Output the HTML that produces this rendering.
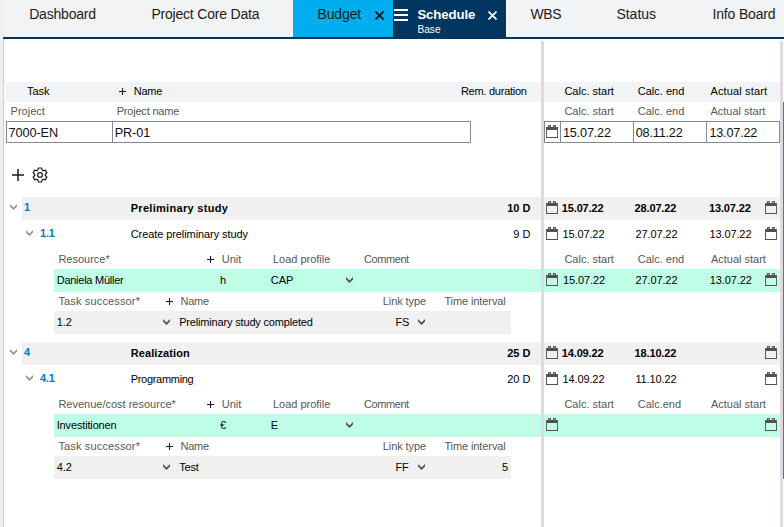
<!DOCTYPE html>
<html><head><meta charset="utf-8"><style>
html,body{margin:0;padding:0;width:784px;height:527px;overflow:hidden;background:#fff;}
body{position:relative;font-family:"Liberation Sans",sans-serif;}
</style></head><body>
<div style="position:absolute;left:0px;top:0px;width:784px;height:527px;background:#ffffff;"></div>
<div style="position:absolute;left:0px;top:0px;width:784px;height:37px;background:#f2f3f5;"></div>
<div style="position:absolute;left:0px;top:0px;width:4px;height:37px;background:#efefef;"></div>
<div style="position:absolute;left:0px;top:37px;width:3px;height:490px;background:#efefef;"></div>
<div style="position:absolute;left:293px;top:0px;width:100px;height:37px;background:#00aeef;"></div>
<div style="position:absolute;left:393px;top:0px;width:113px;height:37px;background:#00365f;"></div>
<div style="position:absolute;left:3px;top:37px;width:781px;height:2px;background:#00365f;"></div>
<div style="position:absolute;left:3px;top:39px;width:1px;height:488px;background:#d0d1e0;"></div>
<div style="position:absolute;left:4px;top:39px;width:1px;height:488px;background:#f6f6fa;"></div>
<div style="position:absolute;left:541px;top:41px;width:3px;height:486px;background:#e0d8e3;"></div>
<div style="position:absolute;left:780px;top:41px;width:3px;height:486px;background:#e0d8e3;"></div>
<div style="position:absolute;left:783px;top:102px;width:1px;height:377px;background:#5d7096;"></div>
<div style="position:absolute;left:6px;top:82px;width:535px;height:20px;background:#f2f3f5;"></div>
<div style="position:absolute;left:544px;top:82px;width:236px;height:20px;background:#f2f3f5;"></div>
<div style="position:absolute;left:6px;top:121px;width:465px;height:22px;background:#fff;box-sizing:border-box;border:1px solid #7f8a96"></div>
<div style="position:absolute;left:112px;top:121px;width:1px;height:22px;background:#7f8a96;"></div>
<div style="position:absolute;left:544px;top:121px;width:236px;height:22px;background:#fff;box-sizing:border-box;border:1px solid #7f8a96"></div>
<div style="position:absolute;left:560px;top:121px;width:1px;height:22px;background:#7f8a96;"></div>
<div style="position:absolute;left:633px;top:121px;width:1px;height:22px;background:#7f8a96;"></div>
<div style="position:absolute;left:706px;top:121px;width:1px;height:22px;background:#7f8a96;"></div>
<svg style="position:absolute;left:546px;top:125px" width="12" height="13" viewBox="0 0 12 13" shape-rendering="crispEdges"><rect x="2" y="0" width="3" height="2" fill="#5e5e5e"/><rect x="7" y="0" width="3" height="2" fill="#5e5e5e"/><rect x="3" y="1" width="1" height="1" fill="#b0b0b0"/><rect x="8" y="1" width="1" height="1" fill="#b0b0b0"/><rect x="0" y="2" width="12" height="3" fill="#505050"/><rect x="0" y="2" width="1" height="11" fill="#5e5e5e"/><rect x="11" y="2" width="1" height="11" fill="#5e5e5e"/><rect x="0" y="12" width="12" height="1" fill="#505050"/></svg>
<svg style="position:absolute;left:375px;top:11px" width="9" height="9" viewBox="0 0 9 9"><line x1="0.5" y1="0.5" x2="8.5" y2="8.5" stroke="#111" stroke-width="1.7"/><line x1="8.5" y1="0.5" x2="0.5" y2="8.5" stroke="#111" stroke-width="1.7"/></svg>
<svg style="position:absolute;left:488px;top:11px" width="9" height="9" viewBox="0 0 9 9"><line x1="0.5" y1="0.5" x2="8.5" y2="8.5" stroke="#fff" stroke-width="1.7"/><line x1="8.5" y1="0.5" x2="0.5" y2="8.5" stroke="#fff" stroke-width="1.7"/></svg>
<div style="position:absolute;left:394px;top:9px;width:14px;height:2px;background:#fff;"></div>
<div style="position:absolute;left:394px;top:14px;width:14px;height:2px;background:#fff;"></div>
<div style="position:absolute;left:394px;top:19px;width:14px;height:2px;background:#fff;"></div>
<svg style="position:absolute;left:119px;top:88px" width="7" height="7" viewBox="0 0 7 7"><line x1="0" y1="3.5" x2="7" y2="3.5" stroke="#222" stroke-width="1.1"/><line x1="3.5" y1="0" x2="3.5" y2="7" stroke="#222" stroke-width="1.1"/></svg>
<svg style="position:absolute;left:12px;top:169px" width="12" height="12" viewBox="0 0 12 12"><line x1="0" y1="6" x2="12" y2="6" stroke="#1a1a1a" stroke-width="1.5"/><line x1="6" y1="0" x2="6" y2="12" stroke="#1a1a1a" stroke-width="1.5"/></svg>
<svg style="position:absolute;left:32px;top:167px" width="16" height="16" viewBox="0 0 16 16"><polygon points="5.84,3.16 6.38,0.98 9.62,0.98 10.16,3.16 11.12,3.71 13.27,3.09 14.89,5.89 13.27,7.45 13.27,8.55 14.89,10.11 13.27,12.91 11.12,12.29 10.16,12.84 9.62,15.02 6.38,15.02 5.84,12.84 4.88,12.29 2.73,12.91 1.11,10.11 2.73,8.55 2.73,7.45 1.11,5.89 2.73,3.09 4.88,3.71" fill="none" stroke="#1a1a1a" stroke-width="1.2" stroke-linejoin="round"/><circle cx="8" cy="8" r="2.4" fill="none" stroke="#1a1a1a" stroke-width="1.2"/></svg>
<div style="position:absolute;left:22px;top:197px;width:519px;height:23px;background:#f0f0f0;"></div>
<div style="position:absolute;left:544px;top:197px;width:236px;height:23px;background:#f0f0f0;"></div>
<svg style="position:absolute;left:10px;top:204px" width="7" height="6" viewBox="0 0 7 6"><polygon points="0,0 3.5,3.4 7,0 7,2.4 3.5,6 0,2.4" fill="#949494"/></svg>
<svg style="position:absolute;left:546px;top:201px" width="12" height="13" viewBox="0 0 12 13" shape-rendering="crispEdges"><rect x="2" y="0" width="3" height="2" fill="#5e5e5e"/><rect x="7" y="0" width="3" height="2" fill="#5e5e5e"/><rect x="3" y="1" width="1" height="1" fill="#b0b0b0"/><rect x="8" y="1" width="1" height="1" fill="#b0b0b0"/><rect x="0" y="2" width="12" height="3" fill="#505050"/><rect x="0" y="2" width="1" height="11" fill="#5e5e5e"/><rect x="11" y="2" width="1" height="11" fill="#5e5e5e"/><rect x="0" y="12" width="12" height="1" fill="#505050"/></svg>
<svg style="position:absolute;left:765px;top:201px" width="12" height="13" viewBox="0 0 12 13" shape-rendering="crispEdges"><rect x="2" y="0" width="3" height="2" fill="#5e5e5e"/><rect x="7" y="0" width="3" height="2" fill="#5e5e5e"/><rect x="3" y="1" width="1" height="1" fill="#b0b0b0"/><rect x="8" y="1" width="1" height="1" fill="#b0b0b0"/><rect x="0" y="2" width="12" height="3" fill="#505050"/><rect x="0" y="2" width="1" height="11" fill="#5e5e5e"/><rect x="11" y="2" width="1" height="11" fill="#5e5e5e"/><rect x="0" y="12" width="12" height="1" fill="#505050"/></svg>
<svg style="position:absolute;left:26px;top:230px" width="7" height="6" viewBox="0 0 7 6"><polygon points="0,0 3.5,3.4 7,0 7,2.4 3.5,6 0,2.4" fill="#949494"/></svg>
<svg style="position:absolute;left:546px;top:227px" width="12" height="13" viewBox="0 0 12 13" shape-rendering="crispEdges"><rect x="2" y="0" width="3" height="2" fill="#5e5e5e"/><rect x="7" y="0" width="3" height="2" fill="#5e5e5e"/><rect x="3" y="1" width="1" height="1" fill="#b0b0b0"/><rect x="8" y="1" width="1" height="1" fill="#b0b0b0"/><rect x="0" y="2" width="12" height="3" fill="#505050"/><rect x="0" y="2" width="1" height="11" fill="#5e5e5e"/><rect x="11" y="2" width="1" height="11" fill="#5e5e5e"/><rect x="0" y="12" width="12" height="1" fill="#505050"/></svg>
<svg style="position:absolute;left:765px;top:227px" width="12" height="13" viewBox="0 0 12 13" shape-rendering="crispEdges"><rect x="2" y="0" width="3" height="2" fill="#5e5e5e"/><rect x="7" y="0" width="3" height="2" fill="#5e5e5e"/><rect x="3" y="1" width="1" height="1" fill="#b0b0b0"/><rect x="8" y="1" width="1" height="1" fill="#b0b0b0"/><rect x="0" y="2" width="12" height="3" fill="#505050"/><rect x="0" y="2" width="1" height="11" fill="#5e5e5e"/><rect x="11" y="2" width="1" height="11" fill="#5e5e5e"/><rect x="0" y="12" width="12" height="1" fill="#505050"/></svg>
<svg style="position:absolute;left:207px;top:256px" width="7" height="7" viewBox="0 0 7 7"><line x1="0" y1="3.5" x2="7" y2="3.5" stroke="#222" stroke-width="1.1"/><line x1="3.5" y1="0" x2="3.5" y2="7" stroke="#222" stroke-width="1.1"/></svg>
<div style="position:absolute;left:54px;top:269px;width:487px;height:23px;background:#bffde7;"></div>
<div style="position:absolute;left:544px;top:269px;width:236px;height:23px;background:#bffde7;"></div>
<svg style="position:absolute;left:346px;top:277px" width="7" height="6" viewBox="0 0 7 6"><polygon points="0,0 3.5,3.4 7,0 7,2.4 3.5,6 0,2.4" fill="#554f50"/></svg>
<svg style="position:absolute;left:546px;top:273px" width="12" height="13" viewBox="0 0 12 13" shape-rendering="crispEdges"><rect x="2" y="0" width="3" height="2" fill="#5e5e5e"/><rect x="7" y="0" width="3" height="2" fill="#5e5e5e"/><rect x="3" y="1" width="1" height="1" fill="#b0b0b0"/><rect x="8" y="1" width="1" height="1" fill="#b0b0b0"/><rect x="0" y="2" width="12" height="3" fill="#505050"/><rect x="0" y="2" width="1" height="11" fill="#5e5e5e"/><rect x="11" y="2" width="1" height="11" fill="#5e5e5e"/><rect x="0" y="12" width="12" height="1" fill="#505050"/></svg>
<svg style="position:absolute;left:765px;top:273px" width="12" height="13" viewBox="0 0 12 13" shape-rendering="crispEdges"><rect x="2" y="0" width="3" height="2" fill="#5e5e5e"/><rect x="7" y="0" width="3" height="2" fill="#5e5e5e"/><rect x="3" y="1" width="1" height="1" fill="#b0b0b0"/><rect x="8" y="1" width="1" height="1" fill="#b0b0b0"/><rect x="0" y="2" width="12" height="3" fill="#505050"/><rect x="0" y="2" width="1" height="11" fill="#5e5e5e"/><rect x="11" y="2" width="1" height="11" fill="#5e5e5e"/><rect x="0" y="12" width="12" height="1" fill="#505050"/></svg>
<svg style="position:absolute;left:165.8px;top:298px" width="7" height="7" viewBox="0 0 7 7"><line x1="0" y1="3.5" x2="7" y2="3.5" stroke="#222" stroke-width="1.1"/><line x1="3.5" y1="0" x2="3.5" y2="7" stroke="#222" stroke-width="1.1"/></svg>
<div style="position:absolute;left:54px;top:311px;width:457px;height:23px;background:#f0f0f0;"></div>
<svg style="position:absolute;left:163px;top:319px" width="7" height="6" viewBox="0 0 7 6"><polygon points="0,0 3.5,3.4 7,0 7,2.4 3.5,6 0,2.4" fill="#554f50"/></svg>
<svg style="position:absolute;left:418px;top:319px" width="7" height="6" viewBox="0 0 7 6"><polygon points="0,0 3.5,3.4 7,0 7,2.4 3.5,6 0,2.4" fill="#554f50"/></svg>
<div style="position:absolute;left:22px;top:342px;width:519px;height:23px;background:#f0f0f0;"></div>
<div style="position:absolute;left:544px;top:342px;width:236px;height:23px;background:#f0f0f0;"></div>
<svg style="position:absolute;left:10px;top:349px" width="7" height="6" viewBox="0 0 7 6"><polygon points="0,0 3.5,3.4 7,0 7,2.4 3.5,6 0,2.4" fill="#949494"/></svg>
<svg style="position:absolute;left:546px;top:346px" width="12" height="13" viewBox="0 0 12 13" shape-rendering="crispEdges"><rect x="2" y="0" width="3" height="2" fill="#5e5e5e"/><rect x="7" y="0" width="3" height="2" fill="#5e5e5e"/><rect x="3" y="1" width="1" height="1" fill="#b0b0b0"/><rect x="8" y="1" width="1" height="1" fill="#b0b0b0"/><rect x="0" y="2" width="12" height="3" fill="#505050"/><rect x="0" y="2" width="1" height="11" fill="#5e5e5e"/><rect x="11" y="2" width="1" height="11" fill="#5e5e5e"/><rect x="0" y="12" width="12" height="1" fill="#505050"/></svg>
<svg style="position:absolute;left:765px;top:346px" width="12" height="13" viewBox="0 0 12 13" shape-rendering="crispEdges"><rect x="2" y="0" width="3" height="2" fill="#5e5e5e"/><rect x="7" y="0" width="3" height="2" fill="#5e5e5e"/><rect x="3" y="1" width="1" height="1" fill="#b0b0b0"/><rect x="8" y="1" width="1" height="1" fill="#b0b0b0"/><rect x="0" y="2" width="12" height="3" fill="#505050"/><rect x="0" y="2" width="1" height="11" fill="#5e5e5e"/><rect x="11" y="2" width="1" height="11" fill="#5e5e5e"/><rect x="0" y="12" width="12" height="1" fill="#505050"/></svg>
<svg style="position:absolute;left:26px;top:375px" width="7" height="6" viewBox="0 0 7 6"><polygon points="0,0 3.5,3.4 7,0 7,2.4 3.5,6 0,2.4" fill="#949494"/></svg>
<svg style="position:absolute;left:546px;top:372px" width="12" height="13" viewBox="0 0 12 13" shape-rendering="crispEdges"><rect x="2" y="0" width="3" height="2" fill="#5e5e5e"/><rect x="7" y="0" width="3" height="2" fill="#5e5e5e"/><rect x="3" y="1" width="1" height="1" fill="#b0b0b0"/><rect x="8" y="1" width="1" height="1" fill="#b0b0b0"/><rect x="0" y="2" width="12" height="3" fill="#505050"/><rect x="0" y="2" width="1" height="11" fill="#5e5e5e"/><rect x="11" y="2" width="1" height="11" fill="#5e5e5e"/><rect x="0" y="12" width="12" height="1" fill="#505050"/></svg>
<svg style="position:absolute;left:765px;top:372px" width="12" height="13" viewBox="0 0 12 13" shape-rendering="crispEdges"><rect x="2" y="0" width="3" height="2" fill="#5e5e5e"/><rect x="7" y="0" width="3" height="2" fill="#5e5e5e"/><rect x="3" y="1" width="1" height="1" fill="#b0b0b0"/><rect x="8" y="1" width="1" height="1" fill="#b0b0b0"/><rect x="0" y="2" width="12" height="3" fill="#505050"/><rect x="0" y="2" width="1" height="11" fill="#5e5e5e"/><rect x="11" y="2" width="1" height="11" fill="#5e5e5e"/><rect x="0" y="12" width="12" height="1" fill="#505050"/></svg>
<svg style="position:absolute;left:207px;top:401px" width="7" height="7" viewBox="0 0 7 7"><line x1="0" y1="3.5" x2="7" y2="3.5" stroke="#222" stroke-width="1.1"/><line x1="3.5" y1="0" x2="3.5" y2="7" stroke="#222" stroke-width="1.1"/></svg>
<div style="position:absolute;left:54px;top:414px;width:487px;height:23px;background:#bffde7;"></div>
<div style="position:absolute;left:544px;top:414px;width:236px;height:23px;background:#bffde7;"></div>
<svg style="position:absolute;left:346px;top:422px" width="7" height="6" viewBox="0 0 7 6"><polygon points="0,0 3.5,3.4 7,0 7,2.4 3.5,6 0,2.4" fill="#554f50"/></svg>
<svg style="position:absolute;left:546px;top:418px" width="12" height="13" viewBox="0 0 12 13" shape-rendering="crispEdges"><rect x="2" y="0" width="3" height="2" fill="#5e5e5e"/><rect x="7" y="0" width="3" height="2" fill="#5e5e5e"/><rect x="3" y="1" width="1" height="1" fill="#b0b0b0"/><rect x="8" y="1" width="1" height="1" fill="#b0b0b0"/><rect x="0" y="2" width="12" height="3" fill="#505050"/><rect x="0" y="2" width="1" height="11" fill="#5e5e5e"/><rect x="11" y="2" width="1" height="11" fill="#5e5e5e"/><rect x="0" y="12" width="12" height="1" fill="#505050"/></svg>
<svg style="position:absolute;left:765px;top:418px" width="12" height="13" viewBox="0 0 12 13" shape-rendering="crispEdges"><rect x="2" y="0" width="3" height="2" fill="#5e5e5e"/><rect x="7" y="0" width="3" height="2" fill="#5e5e5e"/><rect x="3" y="1" width="1" height="1" fill="#b0b0b0"/><rect x="8" y="1" width="1" height="1" fill="#b0b0b0"/><rect x="0" y="2" width="12" height="3" fill="#505050"/><rect x="0" y="2" width="1" height="11" fill="#5e5e5e"/><rect x="11" y="2" width="1" height="11" fill="#5e5e5e"/><rect x="0" y="12" width="12" height="1" fill="#505050"/></svg>
<svg style="position:absolute;left:165.8px;top:443px" width="7" height="7" viewBox="0 0 7 7"><line x1="0" y1="3.5" x2="7" y2="3.5" stroke="#222" stroke-width="1.1"/><line x1="3.5" y1="0" x2="3.5" y2="7" stroke="#222" stroke-width="1.1"/></svg>
<div style="position:absolute;left:54px;top:456px;width:457px;height:23px;background:#f0f0f0;"></div>
<svg style="position:absolute;left:163px;top:464px" width="7" height="6" viewBox="0 0 7 6"><polygon points="0,0 3.5,3.4 7,0 7,2.4 3.5,6 0,2.4" fill="#554f50"/></svg>
<svg style="position:absolute;left:418px;top:464px" width="7" height="6" viewBox="0 0 7 6"><polygon points="0,0 3.5,3.4 7,0 7,2.4 3.5,6 0,2.4" fill="#554f50"/></svg>
<div style="position:absolute;left:29.20px;top:7.45px;font-size:14px;line-height:14px;font-weight:400;color:#1b1b1b;white-space:pre;letter-spacing:-0.2px">Dashboard</div>
<div style="position:absolute;left:151.40px;top:7.45px;font-size:14px;line-height:14px;font-weight:400;color:#1b1b1b;white-space:pre;letter-spacing:-0.2px">Project Core Data</div>
<div style="position:absolute;left:317.40px;top:7.45px;font-size:14px;line-height:14px;font-weight:400;color:#1b1b1b;white-space:pre;letter-spacing:-0.1px">Budget</div>
<div style="position:absolute;left:530.40px;top:7.45px;font-size:14px;line-height:14px;font-weight:400;color:#1b1b1b;white-space:pre;letter-spacing:-0.3px">WBS</div>
<div style="position:absolute;left:616.40px;top:7.45px;font-size:14px;line-height:14px;font-weight:400;color:#1b1b1b;white-space:pre;">Status</div>
<div style="position:absolute;left:712.40px;top:7.45px;font-size:14px;line-height:14px;font-weight:400;color:#1b1b1b;white-space:pre;letter-spacing:-0.15px">Info Board</div>
<div style="position:absolute;left:417.40px;top:7.83px;font-size:13.2px;line-height:13.2px;font-weight:700;color:#ffffff;white-space:pre;letter-spacing:-0.1px">Schedule</div>
<div style="position:absolute;left:417.40px;top:25.17px;font-size:10.2px;line-height:10.2px;font-weight:400;color:#ffffff;white-space:pre;">Base</div>
<div style="position:absolute;left:26.90px;top:85.69px;font-size:11px;line-height:11px;font-weight:400;color:#000000;white-space:pre;">Task</div>
<div style="position:absolute;left:133.80px;top:85.69px;font-size:11px;line-height:11px;font-weight:400;color:#000000;white-space:pre;letter-spacing:-0.25px">Name</div>
<div style="position:absolute;left:460.90px;top:85.69px;font-size:11px;line-height:11px;font-weight:400;color:#000000;white-space:pre;letter-spacing:-0.25px">Rem. duration</div>
<div style="position:absolute;left:564.40px;top:85.69px;font-size:11px;line-height:11px;font-weight:400;color:#000000;white-space:pre;">Calc. start</div>
<div style="position:absolute;left:637.80px;top:85.69px;font-size:11px;line-height:11px;font-weight:400;color:#000000;white-space:pre;">Calc. end</div>
<div style="position:absolute;left:710.40px;top:85.69px;font-size:11px;line-height:11px;font-weight:400;color:#000000;white-space:pre;letter-spacing:0.15px">Actual start</div>
<div style="position:absolute;left:10.60px;top:105.69px;font-size:11px;line-height:11px;font-weight:400;color:#575757;white-space:pre;">Project</div>
<div style="position:absolute;left:116.70px;top:105.69px;font-size:11px;line-height:11px;font-weight:400;color:#575757;white-space:pre;letter-spacing:-0.2px">Project name</div>
<div style="position:absolute;left:564.40px;top:105.69px;font-size:11px;line-height:11px;font-weight:400;color:#575757;white-space:pre;">Calc. start</div>
<div style="position:absolute;left:637.80px;top:105.69px;font-size:11px;line-height:11px;font-weight:400;color:#575757;white-space:pre;">Calc. end</div>
<div style="position:absolute;left:710.40px;top:105.69px;font-size:11px;line-height:11px;font-weight:400;color:#575757;white-space:pre;">Actual start</div>
<div style="position:absolute;left:8.60px;top:126.55px;font-size:12.7px;line-height:12.7px;font-weight:400;color:#111;white-space:pre;letter-spacing:-0.1px">7000-EN</div>
<div style="position:absolute;left:114.70px;top:126.55px;font-size:12.7px;line-height:12.7px;font-weight:400;color:#111;white-space:pre;letter-spacing:-0.1px">PR-01</div>
<div style="position:absolute;left:563.00px;top:126.55px;font-size:12.7px;line-height:12.7px;font-weight:400;color:#111;white-space:pre;letter-spacing:-0.2px">15.07.22</div>
<div style="position:absolute;left:635.70px;top:126.55px;font-size:12.7px;line-height:12.7px;font-weight:400;color:#111;white-space:pre;letter-spacing:-0.2px">08.11.22</div>
<div style="position:absolute;left:709.40px;top:126.55px;font-size:12.7px;line-height:12.7px;font-weight:400;color:#111;white-space:pre;letter-spacing:-0.2px">13.07.22</div>
<div style="position:absolute;left:23.90px;top:202.19px;font-size:11px;line-height:11px;font-weight:700;color:#0878bf;white-space:pre;">1</div>
<div style="position:absolute;left:130.70px;top:203.19px;font-size:11px;line-height:11px;font-weight:700;color:#000000;white-space:pre;letter-spacing:0.3px">Preliminary study</div>
<div style="position:absolute;right:253.60px;top:203.19px;font-size:11px;line-height:11px;font-weight:700;color:#000000;white-space:pre;text-align:right;">10 D</div>
<div style="position:absolute;left:561.80px;top:203.19px;font-size:11px;line-height:11px;font-weight:700;color:#000000;white-space:pre;letter-spacing:-0.15px">15.07.22</div>
<div style="position:absolute;left:634.60px;top:203.19px;font-size:11px;line-height:11px;font-weight:700;color:#000000;white-space:pre;letter-spacing:-0.15px">28.07.22</div>
<div style="position:absolute;left:709.00px;top:203.19px;font-size:11px;line-height:11px;font-weight:700;color:#000000;white-space:pre;letter-spacing:-0.15px">13.07.22</div>
<div style="position:absolute;left:40.10px;top:228.19px;font-size:11px;line-height:11px;font-weight:700;color:#0878bf;white-space:pre;letter-spacing:-0.3px">1.1</div>
<div style="position:absolute;left:130.70px;top:229.19px;font-size:11px;line-height:11px;font-weight:400;color:#000000;white-space:pre;letter-spacing:-0.08px">Create preliminary study</div>
<div style="position:absolute;right:253.60px;top:229.19px;font-size:11px;line-height:11px;font-weight:400;color:#000000;white-space:pre;text-align:right;">9 D</div>
<div style="position:absolute;left:562.40px;top:229.19px;font-size:11px;line-height:11px;font-weight:400;color:#000000;white-space:pre;letter-spacing:-0.1px">15.07.22</div>
<div style="position:absolute;left:635.40px;top:229.19px;font-size:11px;line-height:11px;font-weight:400;color:#000000;white-space:pre;letter-spacing:-0.1px">27.07.22</div>
<div style="position:absolute;left:709.40px;top:229.19px;font-size:11px;line-height:11px;font-weight:400;color:#000000;white-space:pre;letter-spacing:-0.1px">13.07.22</div>
<div style="position:absolute;left:58.40px;top:254.09px;font-size:11px;line-height:11px;font-weight:400;color:#575757;white-space:pre;">Resource*</div>
<div style="position:absolute;left:221.80px;top:254.09px;font-size:11px;line-height:11px;font-weight:400;color:#575757;white-space:pre;">Unit</div>
<div style="position:absolute;left:272.90px;top:254.09px;font-size:11px;line-height:11px;font-weight:400;color:#575757;white-space:pre;">Load profile</div>
<div style="position:absolute;left:363.90px;top:254.09px;font-size:11px;line-height:11px;font-weight:400;color:#575757;white-space:pre;letter-spacing:-0.4px">Comment</div>
<div style="position:absolute;left:564.40px;top:254.09px;font-size:11px;line-height:11px;font-weight:400;color:#575757;white-space:pre;">Calc. start</div>
<div style="position:absolute;left:637.70px;top:254.09px;font-size:11px;line-height:11px;font-weight:400;color:#575757;white-space:pre;">Calc. end</div>
<div style="position:absolute;left:710.90px;top:254.09px;font-size:11px;line-height:11px;font-weight:400;color:#575757;white-space:pre;">Actual start</div>
<div style="position:absolute;left:56.70px;top:275.49px;font-size:11px;line-height:11px;font-weight:400;color:#000000;white-space:pre;letter-spacing:-0.25px">Daniela Müller</div>
<div style="position:absolute;left:219.90px;top:275.49px;font-size:11px;line-height:11px;font-weight:400;color:#000000;white-space:pre;">h</div>
<div style="position:absolute;left:270.80px;top:275.49px;font-size:11px;line-height:11px;font-weight:400;color:#000000;white-space:pre;">CAP</div>
<div style="position:absolute;left:563.10px;top:275.49px;font-size:11px;line-height:11px;font-weight:400;color:#000000;white-space:pre;letter-spacing:-0.1px">15.07.22</div>
<div style="position:absolute;left:635.40px;top:275.49px;font-size:11px;line-height:11px;font-weight:400;color:#000000;white-space:pre;letter-spacing:-0.1px">27.07.22</div>
<div style="position:absolute;left:709.70px;top:275.49px;font-size:11px;line-height:11px;font-weight:400;color:#000000;white-space:pre;letter-spacing:-0.1px">13.07.22</div>
<div style="position:absolute;left:58.40px;top:295.99px;font-size:11px;line-height:11px;font-weight:400;color:#575757;white-space:pre;letter-spacing:0.15px">Task successor*</div>
<div style="position:absolute;left:180.40px;top:295.99px;font-size:11px;line-height:11px;font-weight:400;color:#575757;white-space:pre;letter-spacing:-0.2px">Name</div>
<div style="position:absolute;left:382.80px;top:295.99px;font-size:11px;line-height:11px;font-weight:400;color:#575757;white-space:pre;letter-spacing:-0.1px">Link type</div>
<div style="position:absolute;left:444.40px;top:295.99px;font-size:11px;line-height:11px;font-weight:400;color:#575757;white-space:pre;letter-spacing:-0.1px">Time interval</div>
<div style="position:absolute;left:56.70px;top:316.89px;font-size:11px;line-height:11px;font-weight:400;color:#000000;white-space:pre;">1.2</div>
<div style="position:absolute;left:179.20px;top:316.89px;font-size:11px;line-height:11px;font-weight:400;color:#000000;white-space:pre;letter-spacing:-0.17px">Preliminary study completed</div>
<div style="position:absolute;left:395.40px;top:316.89px;font-size:11px;line-height:11px;font-weight:400;color:#000000;white-space:pre;">FS</div>
<div style="position:absolute;left:23.90px;top:347.19px;font-size:11px;line-height:11px;font-weight:700;color:#0878bf;white-space:pre;">4</div>
<div style="position:absolute;left:130.70px;top:348.19px;font-size:11px;line-height:11px;font-weight:700;color:#000000;white-space:pre;letter-spacing:0.1px">Realization</div>
<div style="position:absolute;right:253.60px;top:348.19px;font-size:11px;line-height:11px;font-weight:700;color:#000000;white-space:pre;text-align:right;">25 D</div>
<div style="position:absolute;left:561.80px;top:348.19px;font-size:11px;line-height:11px;font-weight:700;color:#000000;white-space:pre;letter-spacing:-0.15px">14.09.22</div>
<div style="position:absolute;left:634.60px;top:348.19px;font-size:11px;line-height:11px;font-weight:700;color:#000000;white-space:pre;letter-spacing:-0.15px">18.10.22</div>
<div style="position:absolute;left:40.10px;top:373.19px;font-size:11px;line-height:11px;font-weight:700;color:#0878bf;white-space:pre;letter-spacing:-0.3px">4.1</div>
<div style="position:absolute;left:130.70px;top:374.19px;font-size:11px;line-height:11px;font-weight:400;color:#000000;white-space:pre;letter-spacing:-0.3px">Programming</div>
<div style="position:absolute;right:253.60px;top:374.19px;font-size:11px;line-height:11px;font-weight:400;color:#000000;white-space:pre;text-align:right;">20 D</div>
<div style="position:absolute;left:562.40px;top:374.19px;font-size:11px;line-height:11px;font-weight:400;color:#000000;white-space:pre;letter-spacing:-0.1px">14.09.22</div>
<div style="position:absolute;left:635.40px;top:374.19px;font-size:11px;line-height:11px;font-weight:400;color:#000000;white-space:pre;letter-spacing:-0.1px">11.10.22</div>
<div style="position:absolute;left:58.40px;top:399.09px;font-size:11px;line-height:11px;font-weight:400;color:#575757;white-space:pre;">Revenue/cost resource*</div>
<div style="position:absolute;left:221.80px;top:399.09px;font-size:11px;line-height:11px;font-weight:400;color:#575757;white-space:pre;">Unit</div>
<div style="position:absolute;left:272.90px;top:399.09px;font-size:11px;line-height:11px;font-weight:400;color:#575757;white-space:pre;">Load profile</div>
<div style="position:absolute;left:363.90px;top:399.09px;font-size:11px;line-height:11px;font-weight:400;color:#575757;white-space:pre;letter-spacing:-0.4px">Comment</div>
<div style="position:absolute;left:564.40px;top:399.09px;font-size:11px;line-height:11px;font-weight:400;color:#575757;white-space:pre;">Calc. start</div>
<div style="position:absolute;left:637.70px;top:399.09px;font-size:11px;line-height:11px;font-weight:400;color:#575757;white-space:pre;">Calc.end</div>
<div style="position:absolute;left:710.90px;top:399.09px;font-size:11px;line-height:11px;font-weight:400;color:#575757;white-space:pre;">Actual start</div>
<div style="position:absolute;left:56.70px;top:420.49px;font-size:11px;line-height:11px;font-weight:400;color:#000000;white-space:pre;letter-spacing:-0.15px">Investitionen</div>
<div style="position:absolute;left:219.90px;top:420.49px;font-size:11px;line-height:11px;font-weight:400;color:#000000;white-space:pre;">€</div>
<div style="position:absolute;left:270.80px;top:420.49px;font-size:11px;line-height:11px;font-weight:400;color:#000000;white-space:pre;">E</div>
<div style="position:absolute;left:58.40px;top:440.99px;font-size:11px;line-height:11px;font-weight:400;color:#575757;white-space:pre;letter-spacing:0.15px">Task successor*</div>
<div style="position:absolute;left:180.40px;top:440.99px;font-size:11px;line-height:11px;font-weight:400;color:#575757;white-space:pre;letter-spacing:-0.2px">Name</div>
<div style="position:absolute;left:382.80px;top:440.99px;font-size:11px;line-height:11px;font-weight:400;color:#575757;white-space:pre;letter-spacing:-0.1px">Link type</div>
<div style="position:absolute;left:444.40px;top:440.99px;font-size:11px;line-height:11px;font-weight:400;color:#575757;white-space:pre;letter-spacing:-0.1px">Time interval</div>
<div style="position:absolute;left:56.70px;top:461.89px;font-size:11px;line-height:11px;font-weight:400;color:#000000;white-space:pre;">4.2</div>
<div style="position:absolute;left:179.20px;top:461.89px;font-size:11px;line-height:11px;font-weight:400;color:#000000;white-space:pre;letter-spacing:-0.17px">Test</div>
<div style="position:absolute;left:395.40px;top:461.89px;font-size:11px;line-height:11px;font-weight:400;color:#000000;white-space:pre;">FF</div>
<div style="position:absolute;right:275.80px;top:461.89px;font-size:11px;line-height:11px;font-weight:400;color:#000000;white-space:pre;text-align:right;">5</div>
</body></html>
